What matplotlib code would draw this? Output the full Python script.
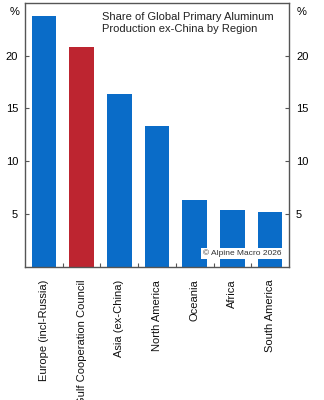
import matplotlib
matplotlib.use("Agg")
import matplotlib.pyplot as plt
import numpy as np

plt.rcParams['font.family'] = ['Liberation Sans', 'DejaVu Sans']

regions = ["Europe (incl-Russia)", "Gulf Cooperation Council", "Asia (ex-China)",
           "North America", "Oceania", "Africa", "South America"]
shares = [23.8, 20.8, 16.4, 13.3, 6.3, 5.4, 5.2]
highlight = "Gulf Cooperation Council"
yticks = [5, 10, 15, 20]

blue = "#0a6cc8"
red = "#bd2530"
frame = "#555555"

fig = plt.figure(figsize=(3.24, 4.0), dpi=100)
ax = fig.add_axes([25 / 324, 1 - 266.5 / 400, 264 / 324, 263.5 / 400])

x = np.arange(len(regions))
colors = [red if r == highlight else blue for r in regions]
ax.bar(x, shares, width=0.65, color=colors, zorder=2)

ax.set_xlim(-0.5, len(regions) - 0.5)
ax.set_ylim(0, 25)

for s in ax.spines.values():
    s.set_color(frame)
    s.set_linewidth(1.0)

ax.set_yticks(yticks)
ax.set_yticklabels([str(t) for t in yticks])
ax.tick_params(axis='y', direction='in', length=3, width=0.8, color=frame,
               labelsize=8, left=True, right=True, labelleft=True, labelright=True,
               pad=5)

# category labels centred under bars, tick marks on category boundaries
ax.set_xticks(np.arange(len(regions) - 1) + 0.5)
ax.set_xticklabels([])
ax.tick_params(axis='x', direction='in', length=3, width=0.8, color=frame)
for xi, r in zip(x, regions):
    ax.text(xi, -0.05, r, transform=ax.get_xaxis_transform(), rotation=90,
            ha='center', va='top', fontsize=8, color='#111111')

ax.text(-0.019, 0.985, "%", transform=ax.transAxes, ha='right', va='top', fontsize=8)
ax.text(1.03, 0.985, "%", transform=ax.transAxes, ha='left', va='top', fontsize=8)

ax.text(0.29, 0.965, "Share of Global Primary Aluminum\nProduction ex-China by Region",
        transform=ax.transAxes, ha='left', va='top', fontsize=8, linespacing=1.25,
        color='#222222')

ax.text(0.97, 0.035, "© Alpine Macro 2026", transform=ax.transAxes, ha='right',
        va='bottom', fontsize=6, color='#333333', zorder=5,
        bbox=dict(facecolor='white', edgecolor='none', pad=1.2))

fig.savefig("out.png", dpi=100)
